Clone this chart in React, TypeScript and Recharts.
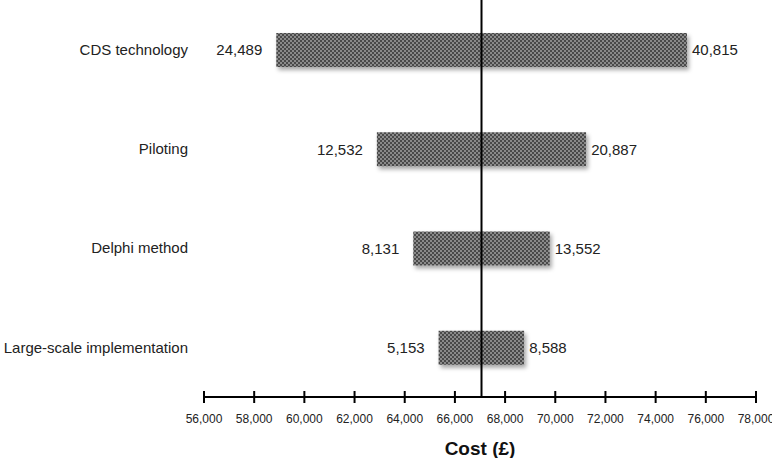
import { BarChart, Bar, XAxis, YAxis, ReferenceLine, LabelList } from "recharts"

const categories = ["CDS technology", "Piloting", "Delphi method", "Large-scale implementation"]
const lowCost = [58880, 62890, 64340, 65350]
const highCost = [75250, 71230, 69780, 68760]
const lowLabels = ["24,489", "12,532", "8,131", "5,153"]
const highLabels = ["40,815", "20,887", "13,552", "8,588"]
const baseCost = 67060
const xTicks = [56000, 58000, 60000, 62000, 64000, 66000, 68000, 70000, 72000, 74000, 76000, 78000]

const data = categories.map((name, i) => ({
  name,
  range: [lowCost[i], highCost[i]],
  lowLabel: lowLabels[i],
  highLabel: highLabels[i],
}))

const font = '"Liberation Sans", Arial, sans-serif'

function CostTick(props: any) {
  const { x, y, payload } = props
  return (
    <g>
      <line x1={x} x2={x} y1={y - 6} y2={y + 6} stroke="#000" strokeWidth={2} />
      <text x={x} y={y + 22} textAnchor="middle" dominantBaseline="central" fontSize={12} fill="#222" fontFamily={font}>
        {payload.value.toLocaleString("en-US")}
      </text>
    </g>
  )
}

export default function App() {
  return (
    <div style={{ position: "absolute", left: 0, top: 0, background: "#fff" }}>
      <BarChart
        width={772}
        height={458}
        data={data}
        layout="vertical"
        margin={{ top: 0, right: 16, left: 0, bottom: 0 }}
        barSize={34}
        style={{ fontFamily: font }}
      >
        <defs>
          <pattern id="dots" width={4} height={4} patternUnits="userSpaceOnUse">
            <rect width={4} height={4} fill="#8a8a8a" />
            <rect width={2} height={2} fill="#4a4a4a" />
            <rect x={2} y={2} width={2} height={2} fill="#4a4a4a" />
          </pattern>
          <filter id="shadow" x="-5%" y="-20%" width="115%" height="160%">
            <feDropShadow dx={2} dy={3} stdDeviation={2} floodColor="#000" floodOpacity={0.35} />
          </filter>
        </defs>
        <XAxis
          type="number"
          domain={[56000, 78000]}
          ticks={xTicks}
          interval={0}
          allowDataOverflow
          height={61}
          tickSize={0}
          tickMargin={0}
          tickLine={false}
          axisLine={{ stroke: "#000", strokeWidth: 2 }}
          tick={<CostTick />}
          label={{ value: "Cost (£)", position: "insideBottom", offset: 3, fontSize: 19, fontWeight: "bold", fill: "#111", fontFamily: font }}
        />
        <YAxis
          type="category"
          dataKey="name"
          width={204}
          axisLine={false}
          tickLine={false}
          tickSize={0}
          tickMargin={16}
          tick={{ fontSize: 15, fill: "#222", fontFamily: font }}
        />
        <Bar dataKey="range" fill="url(#dots)" filter="url(#shadow)" isAnimationActive={false}>
          <LabelList dataKey="lowLabel" position="left" offset={14} fontSize={15} fill="#222" fontFamily={font} />
          <LabelList dataKey="highLabel" position="right" offset={5} fontSize={15} fill="#222" fontFamily={font} />
        </Bar>
        <ReferenceLine x={baseCost} stroke="#000" strokeWidth={2} />
      </BarChart>
    </div>
  )
}
